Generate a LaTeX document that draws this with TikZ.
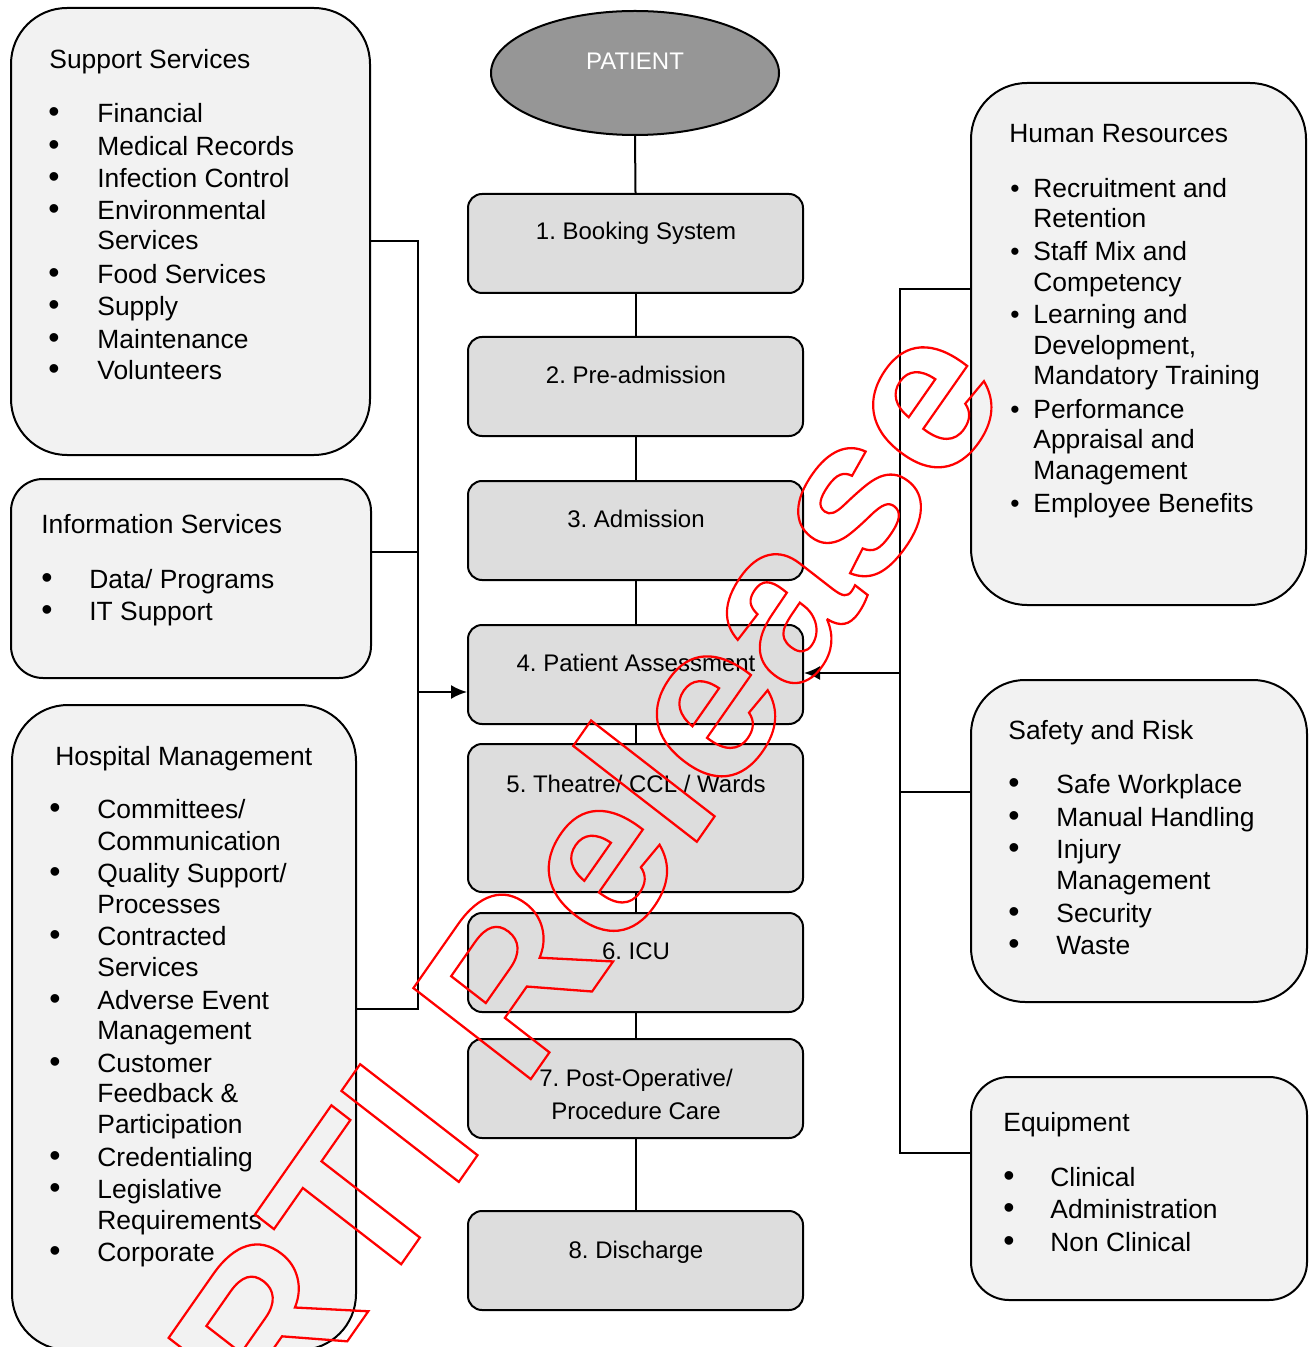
\documentclass[tikz,border=0pt]{standalone}
\usepackage{fontspec}
\setmainfont{Liberation Sans}
\usetikzlibrary{shapes.geometric,fit,arrows.meta}
\definecolor{sidefill}{HTML}{F2F2F2}
\definecolor{stepfill}{HTML}{DDDDDD}
\definecolor{patfill}{HTML}{969696}
\definecolor{wmred}{HTML}{FF0000}
\frenchspacing
\begin{document}
\begin{tikzpicture}[x=0.5pt,y=-0.5pt,
  sidebox/.style={draw=black, line width=1pt, fill=sidefill, inner sep=0pt, rounded corners=#1},
  stepbox/.style={draw=black, line width=1pt, fill=stepfill, inner sep=0pt, rounded corners=7pt},
  txt/.style={anchor=base west, inner sep=0pt, font=\fontsize{13.2}{15}\selectfont},
  bul/.style={anchor=base, inner sep=0pt, font=\fontsize{16}{18}\selectfont},
  sbul/.style={anchor=base, inner sep=0pt, font=\fontsize{13.2}{15}\selectfont},
  ctxt/.style={anchor=base, inner sep=0pt, font=\fontsize{12}{14}\selectfont},
  conn/.style={line width=1pt, draw=black},
  arr/.style={line width=1pt, draw=black, -{Latex[length=8pt,width=7pt]}}]
\useasboundingbox (0,0) rectangle (1314,1347);

% ---------- side boxes ----------
\node[sidebox=28pt, fit={(11,8)(370,455)}] (support) {};
\node[sidebox=16pt, fit={(11,479)(371,678)}] (info) {};
\node[sidebox=28pt, fit={(12,705)(356,1350)}] (hosp) {};
\node[sidebox=28pt, fit={(971,83)(1306,605)}] (hr) {};
\node[sidebox=27pt, fit={(971,680)(1307,1002)}] (sr) {};
\node[sidebox=19pt, fit={(971,1077)(1307,1300)}] (eq) {};

% ---------- patient and steps ----------
\node[ellipse, draw=black, line width=1pt, fill=patfill, minimum width=144pt, minimum height=62pt, inner sep=0pt] (pat) at (635,73) {};
\node[ctxt, text=white] (pattxt) at (635,70) {PATIENT};

\node[stepbox, fit={(468,194)(803,293)}] (b1) {};
\node[stepbox, fit={(468,337)(803,436)}] (b2) {};
\node[stepbox, fit={(468,481)(803,580)}] (b3) {};
\node[stepbox, fit={(468,625)(803,724)}] (b4) {};
\node[stepbox, fit={(468,744)(803,892)}] (b5) {};
\node[stepbox, fit={(468,913)(803,1012)}] (b6) {};
\node[stepbox, fit={(468,1039)(803,1138)}] (b7) {};
\node[stepbox, fit={(468,1211)(803,1310)}] (b8) {};

\node[ctxt] (t1) at (636,240) {1. Booking System};
\node[ctxt] (t2) at (636,384) {2. Pre-admission};
\node[ctxt] (t3) at (636,527) {3. Admission};
\node[ctxt] (t4) at (636,671) {4. Patient Assessment};
\node[ctxt] (t5) at (636,792) {5. Theatre/ CCL / Wards};
\node[ctxt] (t6) at (636,959) {6. ICU};
\node[ctxt] (t7a) at (636,1086) {7. Post-Operative/};
\node[ctxt] (t7b) at (636,1119) {Procedure Care};
\node[ctxt] (t8) at (636,1258) {8. Discharge};

% ---------- Support Services ----------
\node[txt] (sshead) at (49,69) {Support Services};
\foreach [count=\i] \yy/\tt in {123/{Financial},156/{Medical Records},188/{Infection Control},220/{Environmental},250/{Services},284/{Food Services},316/{Supply},349/{Maintenance},380/{Volunteers}}
  \node[txt, name=ss\i] at (97,\yy) {\tt};
\foreach \yy in {123,156,188,220,284,316,349,380}
  \node[bul, name=ssb\yy] at (54,\yy) {•};

% ---------- Information Services ----------
\node[txt] (ishead) at (41,533) {Information Services};
\foreach [count=\i] \yy/\tt in {588/{Data/ Programs},620/{IT Support}}
  \node[txt, name=is\i] at (89,\yy) {\tt};
\foreach \yy in {588,620}
  \node[bul, name=isb\yy] at (47,\yy) {•};

% ---------- Hospital Management ----------
\node[txt] (hmhead) at (55,765) {Hospital Management};
\foreach [count=\i] \yy/\tt in {818/{Committees/},850/{Communication},882/{Quality Support/},913/{Processes},945/{Contracted},976/{Services},1009/{Adverse Event},1039/{Management},1072/{Customer},1102/{Feedback \&},1133/{Participation},1166/{Credentialing},1198/{Legislative},1229/{Requirements},1261/{Corporate}}
  \node[txt, name=hm\i] at (97,\yy) {\tt};
\foreach \yy in {818,882,945,1009,1072,1166,1198,1261}
  \node[bul, name=hmb\yy] at (55,\yy) {•};

% ---------- Human Resources ----------
\node[txt] (hrhead) at (1009,143) {Human Resources};
\foreach [count=\i] \yy/\tt in {198/{Recruitment and},228/{Retention},261/{Staff Mix and},292/{Competency},324/{Learning and},355/{Development,},385/{Mandatory Training},418/{Performance},449/{Appraisal and},479/{Management},512/{Employee Benefits}}
  \node[txt, name=hr\i] at (1033,\yy) {\tt};
\foreach \yy in {198,261,324,418,512}
  \node[sbul, name=hrb\yy] at (1015,\yy) {•};

% ---------- Safety and Risk ----------
\node[txt] (srhead) at (1008,739) {Safety and Risk};
\foreach [count=\i] \yy/\tt in {793/{Safe Workplace},826/{Manual Handling},858/{Injury},889/{Management},922/{Security},954/{Waste}}
  \node[txt, name=sr\i] at (1056,\yy) {\tt};
\foreach \yy in {793,826,858,922,954}
  \node[bul, name=srb\yy] at (1014,\yy) {•};

% ---------- Equipment ----------
\node[txt] (eqhead) at (1003,1131) {Equipment};
\foreach [count=\i] \yy/\tt in {1186/{Clinical},1218/{Administration},1251/{Non Clinical}}
  \node[txt, name=eq\i] at (1050,\yy) {\tt};
\foreach \yy in {1186,1218,1251}
  \node[bul, name=eqb\yy] at (1009,\yy) {•};

% ---------- central connectors ----------
\draw[conn] (pat.south) -- (b1.north);
\draw[conn] (b1.south) -- (b2.north);
\draw[conn] (b2.south) -- (b3.north);
\draw[conn] (b3.south) -- (b4.north);
\draw[conn] (b4.south) -- (b5.north);
\draw[conn] (b5.south) -- (b6.north);
\draw[conn] (b6.south) -- (b7.north);
\draw[conn] (b7.south) -- (b8.north);

% ---------- left bus ----------
\coordinate (lt) at (418,241);
\coordinate (lm) at (418,552);
\coordinate (la) at (418,692);
\coordinate (lb) at (418,1009);
\draw[conn] (lt -| support.east) -- (lt) -- (lb) -- (lb -| hosp.east);
\draw[conn] (lm -| info.east) -- (lm);
\draw[arr] (la) -- (la -| b4.west);

% ---------- right bus ----------
\coordinate (rt) at (900,289);
\coordinate (ra) at (900,673);
\coordinate (rm) at (900,792);
\coordinate (rb) at (900,1153);
\draw[conn] (rt -| hr.west) -- (rt) -- (rb) -- (rb -| eq.west);
\draw[conn] (rm) -- (rm -| sr.west);
\draw[arr] (ra) -- (ra -| b4.east);

% ---------- watermark ----------
\begin{scope}[shift={(277.1,1441.6)}]
\node[cm={0.592,0.846,-0.779,0.604,(0,0)}, transform shape, anchor=base west, inner sep=0pt, text=wmred,
      font=\fontsize{109.5}{110}\selectfont\bfseries] (wm) at (0,0)
  {\special{pdf:literal direct 1 Tr 1.1 w 1 0 0 RG}RTI Release\special{pdf:literal direct 0 Tr}};
\end{scope}
\end{tikzpicture}
\end{document}
